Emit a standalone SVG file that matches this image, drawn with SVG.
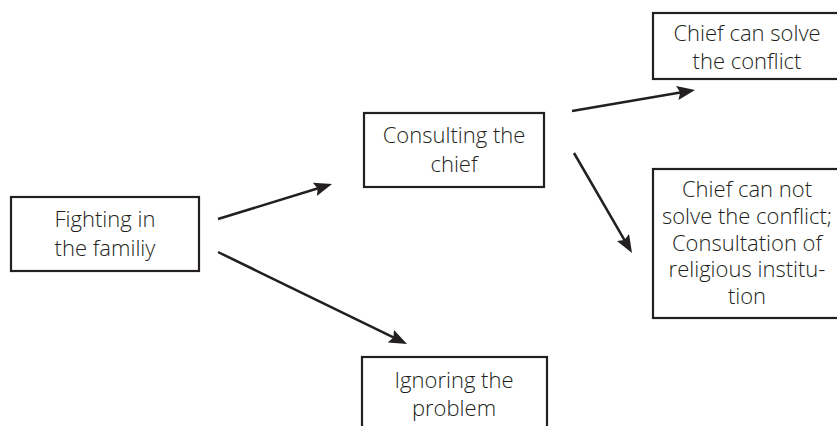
<svg xmlns="http://www.w3.org/2000/svg" width="837" height="426" viewBox="0 0 837 426">
<style>
.box{fill:#fff;stroke:#231f20;stroke-width:2.2}
.t{font-family:"Open Sans","Noto Sans","Liberation Sans",sans-serif;font-size:22px;font-weight:300;fill:#231f20;text-anchor:middle}
.c{stroke:#231f20;stroke-width:2.5;fill:none;marker-end:url(#ah)}
</style>
<defs>
<marker id="ah" viewBox="0 0 18 14" refX="12" refY="7" markerWidth="18" markerHeight="14" markerUnits="userSpaceOnUse" orient="auto">
<path d="M0,0 L18,7 L0,14 L3,7 Z" fill="#231f20"/>
</marker>
</defs>
<rect width="837" height="426" fill="#fff"/>
<g id="connectors">
<line class="c" x1="218" y1="219" x2="326.3" y2="185.8"/>
<line class="c" x1="218" y1="252" x2="401.6" y2="341.4"/>
<line class="c" x1="572" y1="111" x2="689.1" y2="91"/>
<line class="c" x1="574" y1="153" x2="629" y2="247.8"/>
</g>
<g id="n1">
<rect class="box" x="11" y="197" width="188" height="74"/>
<text class="t" x="105" y="227">Fighting in</text>
<text class="t" x="105" y="256">the familiy</text>
</g>
<g id="n2">
<rect class="box" x="364" y="113" width="180" height="74"/>
<text class="t" x="454" y="143">Consulting the</text>
<text class="t" x="454" y="172">chief</text>
</g>
<g id="n3">
<rect class="box" x="653" y="13" width="200" height="66"/>
<text class="t" x="747" y="41">Chief can solve</text>
<text class="t" x="747" y="69">the conflict</text>
</g>
<g id="n4">
<rect class="box" x="653" y="169" width="200" height="149"/>
<text class="t" x="747" y="197">Chief can not</text>
<text class="t" x="747" y="224">solve the conflict;</text>
<text class="t" x="747" y="251">Consultation of</text>
<text class="t" x="747" y="277">religious institu-</text>
<text class="t" x="747" y="304">tion</text>
</g>
<g id="n5">
<rect class="box" x="362" y="357" width="185" height="80"/>
<text class="t" x="454" y="388">Ignoring the</text>
<text class="t" x="454" y="416">problem</text>
</g>
</svg>
